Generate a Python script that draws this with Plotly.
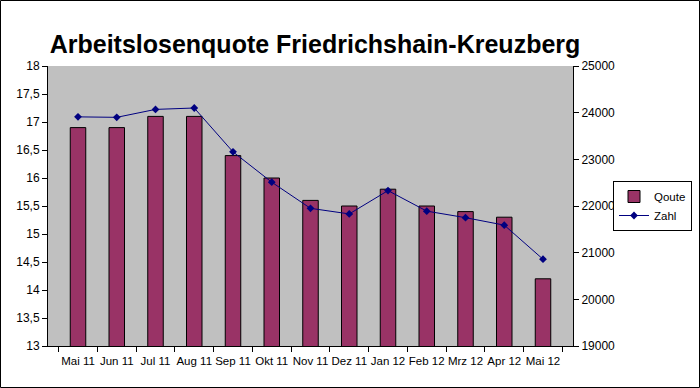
import plotly.graph_objects as go

months = ["Mai 11", "Jun 11", "Jul 11", "Aug 11", "Sep 11", "Okt 11", "Nov 11",
          "Dez 11", "Jan 12", "Feb 12", "Mrz 12", "Apr 12", "Mai 12"]
quote = [16.9, 16.9, 17.1, 17.1, 16.4, 16.0, 15.6, 15.5, 15.8, 15.5, 15.4, 15.3, 14.2]
zahl = [23910, 23900, 24070, 24100, 23160, 22510, 21950, 21830, 22330, 21890, 21750, 21590, 20860]

W, H = 700, 388
L, R, T, B = 48, 127, 66, 42
pw, ph = W - L - R, H - T - B

fig = go.Figure()
fig.add_trace(go.Bar(
    x=months, y=quote, name="Qoute",
    marker=dict(color="#993366", line=dict(color="black", width=1)),
    yaxis="y"))
fig.add_trace(go.Scatter(
    x=months, y=zahl, name="Zahl", mode="lines+markers",
    line=dict(color="#000080", width=1),
    marker=dict(symbol="diamond", size=6, color="#000080"),
    yaxis="y2"))

axis_font = dict(family="Liberation Sans, Arial, sans-serif", size=12, color="black")
x_font = dict(family="Liberation Sans, Arial, sans-serif", size=11.5, color="black")

fig.update_layout(
    width=W, height=H, autosize=False,
    margin=dict(l=L, r=R, t=T, b=B, autoexpand=False),
    paper_bgcolor="white",
    plot_bgcolor="#C0C0C0",
    separators=",.",
    bargap=0.6,
    font=axis_font,
    showlegend=True,
    title=dict(text="<b>Arbeitslosenquote Friedrichshain-Kreuzberg</b>",
               font=dict(family="Liberation Sans, Arial, sans-serif", size=25, color="black"),
               x=(315 - L) / pw, xref="paper", xanchor="center",
               y=1 - 44 / H, yref="container", yanchor="middle"),
    xaxis=dict(type="category", showline=True, linecolor="black", linewidth=1,
               ticks="outside", ticklen=5, tickcolor="black", tickson="boundaries",
               showgrid=False, tickfont=x_font, tickangle=0, automargin=False,
               ticklabelstandoff=4),
    yaxis=dict(range=[13, 18], dtick=0.5, tick0=13, showline=True, linecolor="black",
               ticks="outside", ticklen=5, tickcolor="black", showgrid=False,
               zeroline=False, tickfont=axis_font, automargin=False),
    yaxis2=dict(range=[19000, 25000], dtick=1000, tick0=19000, overlaying="y", side="right",
                showline=True, linecolor="black", ticks="outside", ticklen=5,
                tickcolor="black", showgrid=False, zeroline=False, tickformat="d",
                tickfont=axis_font, automargin=False),
    legend=dict(x=(692 - L) / pw, xanchor="right", y=(H - B - 206) / ph, yanchor="middle",
                bgcolor="white", bordercolor="black", borderwidth=1,
                font=dict(family="Liberation Sans, Arial, sans-serif", size=11.5, color="black"),
                tracegroupgap=0, itemwidth=30),
    shapes=[dict(type="rect", xref="paper", yref="paper",
                 x0=(0.5 - L) / pw, x1=(W - 0.5 - L) / pw,
                 y0=-(B - 0.5) / ph, y1=1 + (T - 0.5) / ph,
                 line=dict(color="black", width=1), fillcolor="rgba(0,0,0,0)", layer="above")],
)

fig.write_html("out.html", config={"displayModeBar": False},
               post_script="document.body.style.margin='0px';document.body.style.overflow='hidden';")
